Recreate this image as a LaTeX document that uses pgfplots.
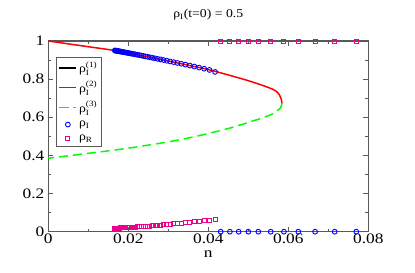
\documentclass[border=0pt]{standalone}
\usepackage{fontspec}
\setmainfont{Liberation Serif}
\usepackage{amsmath}
\usepackage{graphicx}
\usepackage{pgfplots}
\usepackage{pgfplotstable}
\pgfplotsset{compat=1.18}
\newcommand\tl[1]{\textrm{\scalebox{1.2}[1]{#1}}}

\pgfplotstableread{
n rhoI rhoR
0.04170 0.8380 0.0650
0.04030 0.8483 0.0609
0.03897 0.8547 0.0575
0.03771 0.8605 0.0545
0.03651 0.8661 0.0516
0.03537 0.8713 0.0489
0.03428 0.8762 0.0466
0.03325 0.8807 0.0445
0.03228 0.8850 0.0426
0.03135 0.8891 0.0407
0.03046 0.8930 0.0389
0.02963 0.8966 0.0373
0.02883 0.9000 0.0359
0.02807 0.9032 0.0345
0.02735 0.9063 0.0332
0.02667 0.9092 0.0320
0.02602 0.9120 0.0308
0.02541 0.9146 0.0297
0.02482 0.9171 0.0287
0.02427 0.9194 0.0280
0.02374 0.9217 0.0272
0.02324 0.9238 0.0265
0.02276 0.9259 0.0259
0.02231 0.9277 0.0252
0.02188 0.9294 0.0246
0.02147 0.9311 0.0241
0.02108 0.9326 0.0235
0.02071 0.9341 0.0230
0.02036 0.9355 0.0225
0.02003 0.9368 0.0220
0.01971 0.9381 0.0217
0.01941 0.9392 0.0213
0.01913 0.9404 0.0210
0.01886 0.9414 0.0207
0.01860 0.9425 0.0204
0.01835 0.9435 0.0201
0.01812 0.9444 0.0198
0.01790 0.9452 0.0196
0.01769 0.9461 0.0193
0.01749 0.9469 0.0191
0.01730 0.9476 0.0189
0.01712 0.9483 0.0187
0.01695 0.9490 0.0185
0.01679 0.9496 0.0184
0.01663 0.9503 0.0182
}\simlow

\pgfplotstableread{
n rhoI rhoR
0.0431 0 1
0.0454 0 1
0.0476 0 1
0.0500 0 1
0.0525 0 1
0.0556 0 1
0.0589 0 1
0.0625 0 1
0.0667 0 1
0.0716 0 1
0.0770 0 1
}\simhigh

\definecolor{axgray}{RGB}{90,90,90}

\begin{document}
\begin{tikzpicture}[x=1bp,y=1bp]
\path[use as bounding box] (-48.3,-41.3) rectangle (366.7,231.7);
\begin{axis}[
  at={(0,0)}, anchor=south west,
  scale only axis, width=320bp, height=190.7bp,
  xmin=0, xmax=0.08, ymin=0, ymax=1,
  scaled x ticks=false, scaled y ticks=false,
  xtick={0,0.02,0.04,0.06,0.08},
  xticklabels={\tl{0},\tl{0.02},\tl{0.04},\tl{0.06},\tl{0.08}},
  ytick={0,0.2,0.4,0.6,0.8,1},
  yticklabels={\tl{0},\tl{0.2},\tl{0.4},\tl{0.6},\tl{0.8},\tl{1}},
  minor x tick num=1, minor y tick num=1,
  tick align=inside,
  major tick length=5bp, minor tick length=3bp,
  every tick/.style={axgray, line width=0.8pt},
  axis line style={axgray, line width=1.1pt},
  tick label style={font=\fontsize{14.5}{14.5}\selectfont},
  xticklabel style={yshift=1.5bp},
  yticklabel style={xshift=-0.5bp},
  xlabel={\tl{n}},
  xlabel style={at={(0.5,0)}, anchor=center, yshift=-22bp, font=\fontsize{14.5}{14.5}\selectfont},
  legend style={at={(0.025,0.915)}, anchor=north west,
    draw=axgray, line width=0.6pt, font=\fontsize{12}{12}\selectfont,
    row sep=3bp, inner sep=2bp},
  legend cell align=left,
  clip=false,
]
\addlegendimage{black, line width=1.5pt}
\addlegendentry{\scalebox{1.15}[1]{ρ$_{\text{I}}^{\text{(1)}}$}}

\addplot[red, line width=1.5pt, smooth, tension=0.4] coordinates {
(0,1.000) (0.005,0.985) (0.010,0.970) (0.0167,0.950) (0.0225,0.927)
(0.030,0.895) (0.035,0.873) (0.040,0.850) (0.045,0.822) (0.050,0.792)
(0.054,0.764) (0.056,0.748) (0.057,0.736) (0.0575,0.726) (0.058,0.708)
(0.0583,0.690) (0.0584,0.672)
};
\addlegendentry{\scalebox{1.15}[1]{ρ$_{\text{I}}^{\text{(2)}}$}}

\addplot[green, line width=1.5pt, dash pattern=on 9bp off 5bp, smooth, tension=0.4] coordinates {
(0.0584,0.672) (0.0582,0.655) (0.058,0.648) (0.057,0.630) (0.056,0.617)
(0.054,0.600) (0.050,0.573) (0.045,0.541) (0.040,0.515) (0.035,0.491)
(0.030,0.471) (0.025,0.454) (0.020,0.438) (0.015,0.424) (0.010,0.411)
(0.005,0.398) (0,0.385)
};
\addlegendentry{\scalebox{1.15}[1]{ρ$_{\text{I}}^{\text{(3)}}$}}

\addplot[only marks, mark=o, blue, mark size=2.4bp, line width=0.9pt, mark options={solid, draw=blue, fill=none}] table[x=n, y=rhoI] {\simlow};
\addlegendentry{\scalebox{1.15}[1]{ρ$_{\text{I}}$}}
\addplot[only marks, mark=square, magenta, mark size=2bp, line width=0.9pt, mark options={solid, draw=magenta, fill=none}] table[x=n, y=rhoR] {\simlow};
\addlegendentry{\scalebox{1.15}[1]{ρ$_{\text{R}}$}}

\addplot[only marks, mark=o, blue, mark size=2.4bp, line width=0.9pt, mark options={solid, draw=blue, fill=none}, forget plot] table[x=n, y=rhoI] {\simhigh};
\addplot[only marks, mark=square, magenta, mark size=2bp, line width=0.9pt, mark options={solid, draw=magenta, fill=none}, forget plot] table[x=n, y=rhoR] {\simhigh};

\node[font=\fontsize{12}{12}\selectfont] at (rel axis cs:0.5,1) [yshift=26bp] {\scalebox{1.15}[1]{ρ\textsubscript{I}(t=0) = 0.5}};
\end{axis}
\end{tikzpicture}
\end{document}
